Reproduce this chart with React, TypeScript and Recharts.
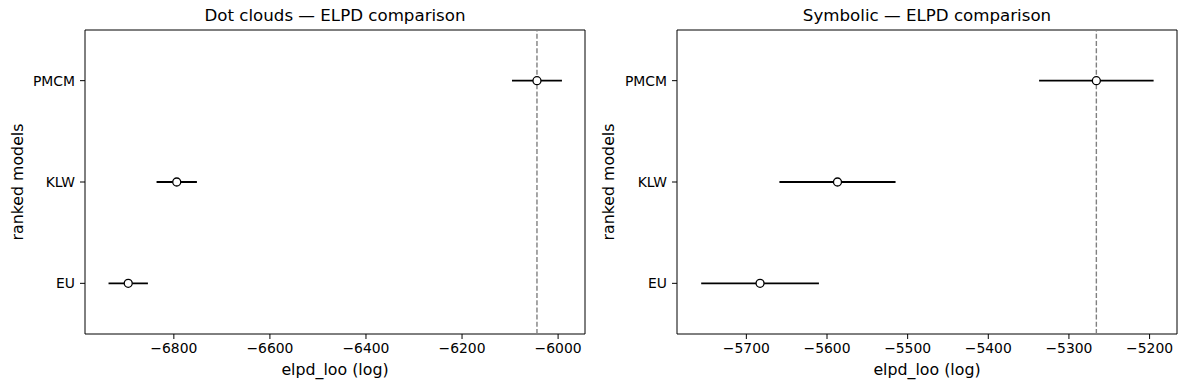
import { ScatterChart, Scatter, XAxis, YAxis, ErrorBar, ReferenceLine, ReferenceArea } from 'recharts';

const MODELS = ['PMCM', 'KLW', 'EU'];

// Dot clouds panel
const DOT_ELPD = [-6044, -6794, -6895];
const DOT_SE = [52, 42, 41];
const DOT_TICKS = [-6800, -6600, -6400, -6200, -6000];

// Symbolic panel
const SYM_ELPD = [-5266, -5587, -5683];
const SYM_SE = [71, 72, 73];
const SYM_TICKS = [-5700, -5600, -5500, -5400, -5300, -5200];

const FONT = '"DejaVu Sans", sans-serif';
const fmtMinus = (v: number) => String(v).replace('-', '\u2212');

type PanelProps = {
  title: string;
  elpd: number[];
  se: number[];
  ticks: number[];
  domain: [number, number];
  left: number;
  marginLeft: number;
  marginRight: number;
  yLabelX: number;
};

function Panel({ title, elpd, se, ticks, domain, left, marginLeft, marginRight, yLabelX }: PanelProps) {
  const data = MODELS.map((m, i) => ({ model: m, rank: i, elpd: elpd[i], se: se[i] }));
  const plotLeft = marginLeft + 60;
  const plotWidth = 593 - plotLeft - marginRight;

  return (
    <div style={{ position: 'absolute', left, top: 0, width: 593, height: 390 }}>
      <div
        style={{
          position: 'absolute',
          left: plotLeft,
          width: plotWidth,
          top: 8,
          textAlign: 'center',
          fontFamily: FONT,
          fontSize: 16.67,
          lineHeight: 1,
          color: '#000',
          whiteSpace: 'nowrap',
        }}
      >
        {title}
      </div>
      <ScatterChart width={593} height={390} margin={{ top: 30, right: marginRight, bottom: 6, left: marginLeft }}>
        <XAxis
          type="number"
          dataKey="elpd"
          domain={domain}
          ticks={ticks}
          allowDataOverflow
          height={50}
          axisLine={false}
          tickSize={5}
          tickMargin={4}
          tickLine={{ stroke: '#000' }}
          tick={{ fill: '#000', fontSize: 13.9, fontFamily: FONT }}
          tickFormatter={fmtMinus}
          label={{
            content: ({ viewBox }: any) => (
              <text
                x={viewBox.x + viewBox.width / 2}
                y={viewBox.y + 41}
                textAnchor="middle"
                fontFamily={FONT}
                fontSize={15.8}
                fill="#000"
              >
                elpd_loo (log)
              </text>
            ),
          }}
        />
        <YAxis
          type="number"
          dataKey="rank"
          domain={[-0.5, 2.5]}
          ticks={[0, 1, 2]}
          reversed
          allowDataOverflow
          width={60}
          axisLine={false}
          tickSize={5}
          tickMargin={5}
          tickLine={{ stroke: '#000' }}
          tick={{ fill: '#000', fontSize: 13.9, fontFamily: FONT }}
          tickFormatter={(i: number) => MODELS[i] ?? ''}
          label={{
            content: ({ viewBox }: any) => {
              const cy = viewBox.y + viewBox.height / 2;
              return (
                <text
                  x={yLabelX}
                  y={cy}
                  transform={`rotate(-90, ${yLabelX}, ${cy})`}
                  textAnchor="middle"
                  fontFamily={FONT}
                  fontSize={15.8}
                  fill="#000"
                >
                  ranked models
                </text>
              );
            },
          }}
        />
        <ReferenceArea
          x1={domain[0]}
          x2={domain[1]}
          y1={-0.5}
          y2={2.5}
          fill="none"
          fillOpacity={0}
          stroke="#000"
          strokeWidth={1}
          strokeOpacity={1}
        />
        <ReferenceLine x={elpd[0]} stroke="#808080" strokeWidth={1.4} strokeDasharray="5 2.2" />
        <Scatter
          data={data}
          isAnimationActive={false}
          shape={(p: any) => (
            <circle cx={p.cx} cy={p.cy} r={4} fill="#fff" stroke="#000" strokeWidth={1.3} />
          )}
        >
          <ErrorBar dataKey="se" direction="x" width={0} stroke="#000" strokeWidth={1.8} isAnimationActive={false} />
        </Scatter>
      </ScatterChart>
    </div>
  );
}

export default function App() {
  return (
    <div style={{ position: 'fixed', left: 0, top: 0, width: 1186, height: 390, background: '#fff' }}>
      <Panel
        title="Dot clouds — ELPD comparison"
        elpd={DOT_ELPD}
        se={DOT_SE}
        ticks={DOT_TICKS}
        domain={[-6985, -5944]}
        left={0}
        marginLeft={25}
        marginRight={8}
        yLabelX={23}
      />
      <Panel
        title="Symbolic — ELPD comparison"
        elpd={SYM_ELPD}
        se={SYM_SE}
        ticks={SYM_TICKS}
        domain={[-5786, -5166]}
        left={593}
        marginLeft={24}
        marginRight={9}
        yLabelX={21}
      />
    </div>
  );
}
